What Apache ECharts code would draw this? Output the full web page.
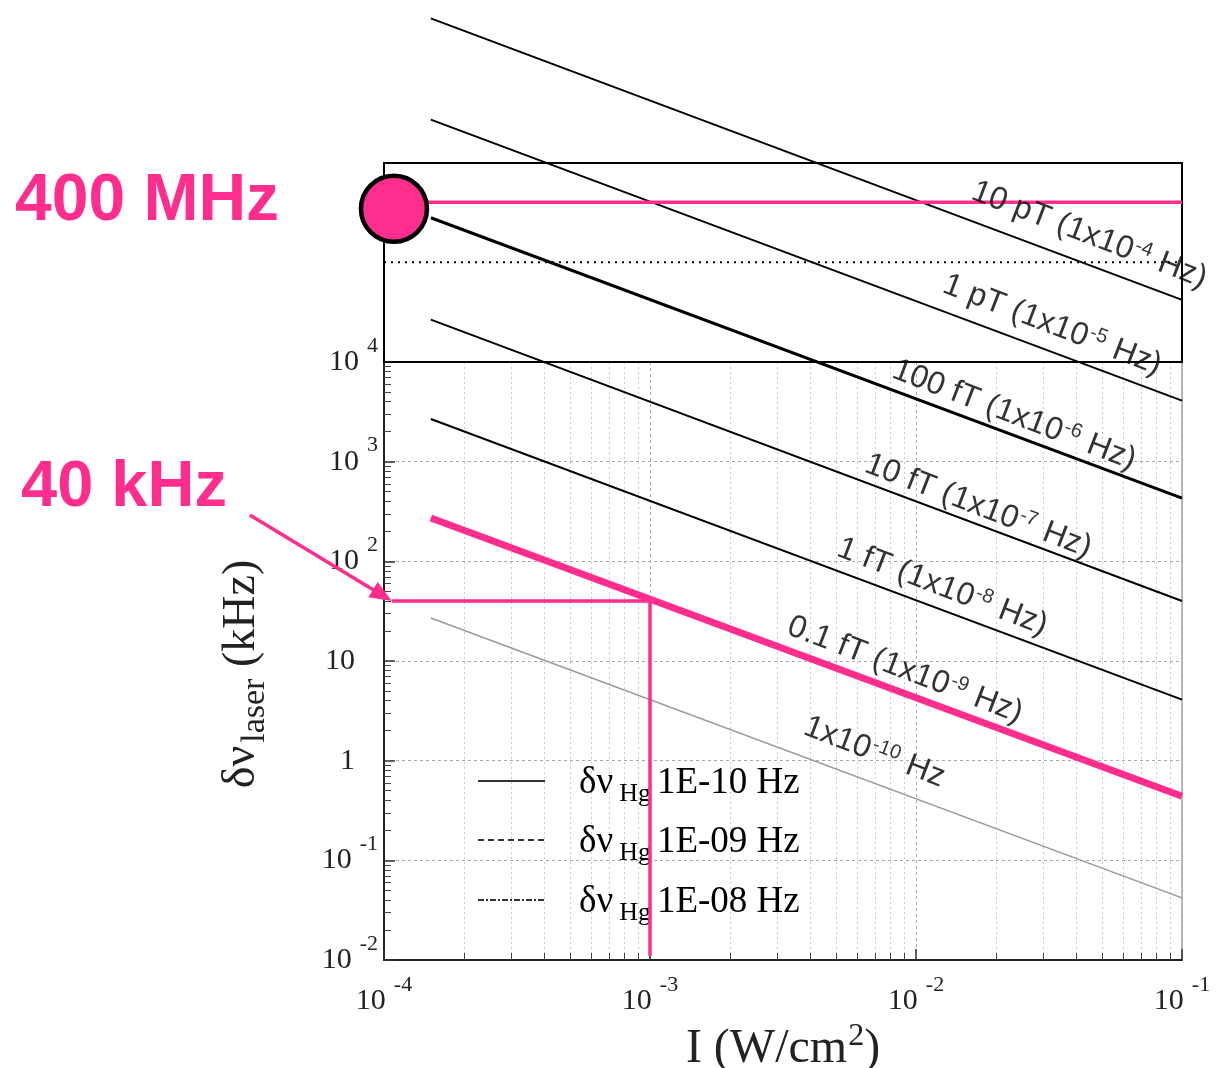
<!DOCTYPE html>
<html>
<head>
<meta charset="utf-8">
<script src="https://cdn.jsdelivr.net/npm/echarts@6/dist/echarts.min.js"></script>
<style>
  html, body { margin: 0; padding: 0; background: #fff; }
  #chart { width: 1219px; height: 1068px; }
</style>
</head>
<body>
<div id="chart"></div>
<script>
// Laser linewidth allowed vs. light intensity, one line per Hg frequency resolution.
// Each line runs from the first to the last intensity value (W/cm^2).
const intensity = [1.5e-4, 0.1];
const line1e4  = [2.8e7, 4.2e4];   // kHz
const line1e5  = [2.7e6, 4.1e3];
const line1e6  = [2.8e5, 431];
const line1e7  = [2.66e4, 40];
const line1e8  = [2680, 4.1];
const line1e9  = [272, 0.44];
const line1e10 = [27, 0.042];

// Operating point at 400 MHz and the 40 kHz read-off at 1 mW/cm^2
const markerPoint = [1.09e-4, 3.45e5];
const mhzLineI = [1.09e-4, 0.1];
const mhzLevel = 4e5;               // 400 MHz in kHz
const dottedLineI = [1e-4, 0.1];
const dottedLevel = 1e5;
const khzLineI = [1.07e-4, 1e-3];
const khzLevel = 40;
const khzDropNu = [40, 0.011];      // vertical drop at I = 1e-3
const khzDropI = 1e-3;

// Line captions
const captionTexts = [
  '10 pT (1x10{s|-4} Hz)',
  '1 pT (1x10{s|-5} Hz)',
  '100 fT (1x10{s|-6} Hz)',
  '10 fT (1x10{s|-7} Hz)',
  '1 fT (1x10{s|-8} Hz)',
  '0.1 fT (1x10{s|-9} Hz)',
  '1x10{s|-10} Hz'
];
const legendTexts = ['1E-10 Hz', '1E-09 Hz', '1E-08 Hz'];

// Caption anchors (data coordinates, centre of each caption)
const captionAnchors = [
  [0.0448, 1.88e5], [0.0325, 2.35e4], [0.0234, 2940], [0.01714, 359],
  [0.01256, 55.3], [0.0091, 8.13], [0.00697, 1.22]
];

const PINK = '#ff2e8e';
const SERIF = 'Liberation Serif';
const SANS = 'Liberation Sans';

function seg(xs, ys) { return xs.map((x, i) => [x, ys[i]]); }

function expLabel(v) {
  const e = Math.round(Math.log10(v));
  if (e === 0) return '{b|1}{g| }';
  if (e === 1) return '{b|10}{g| }';
  return '{b|10}{s|' + e + '}';
}
const tickRich = {
  b: { fontFamily: SERIF, fontSize: 30, color: '#222' },
  s: { fontFamily: SERIF, fontSize: 22, color: '#222', verticalAlign: 'top', padding: [0, 0, 32, 8] },
  g: { width: 23 }
};

function blackLine(ys, width) {
  return {
    type: 'line', xAxisIndex: 0, yAxisIndex: 0, data: seg(intensity, ys),
    symbol: 'none', clip: false, silent: true, z: 3,
    lineStyle: { color: '#000', width: width }
  };
}

const series = [
  blackLine(line1e4, 2),
  blackLine(line1e5, 2),
  blackLine(line1e6, 3),
  blackLine(line1e7, 2),
  blackLine(line1e8, 2),
  {
    type: 'line', data: seg(intensity, line1e10), symbol: 'none', clip: false, silent: true, z: 3,
    lineStyle: { color: '#999', width: 1.5 }
  },
  {
    type: 'line', data: seg(intensity, line1e9), symbol: 'none', clip: false, silent: true, z: 4,
    lineStyle: { color: PINK, width: 7 }
  },
  {
    type: 'line', data: seg(dottedLineI, [dottedLevel, dottedLevel]), symbol: 'none', clip: false, silent: true, z: 3,
    lineStyle: { color: '#000', width: 2, type: [2, 5] }
  },
  {
    type: 'line', data: seg(mhzLineI, [mhzLevel, mhzLevel]), symbol: 'none', clip: false, silent: true, z: 4,
    lineStyle: { color: PINK, width: 3.5 }
  },
  {
    type: 'line', data: seg(khzLineI, [khzLevel, khzLevel]), symbol: 'none', clip: false, silent: true, z: 4,
    lineStyle: { color: PINK, width: 3.5 }
  },
  {
    type: 'line', data: seg([khzDropI, khzDropI], khzDropNu), symbol: 'none', clip: false, silent: true, z: 4,
    lineStyle: { color: PINK, width: 3.5 }
  },
  {
    type: 'scatter', data: [markerPoint], symbol: 'circle', symbolSize: 66, clip: false, silent: true, z: 6,
    itemStyle: { color: PINK, opacity: 1, borderColor: '#000', borderWidth: 4.5 }
  },
  {
    type: 'scatter', symbolSize: 0, clip: false, silent: true, z: 5,
    data: captionAnchors.map((p, i) => ({ value: p, name: captionTexts[i] })),
    label: {
      show: true, position: 'inside', rotate: -21,
      formatter: p => '{t|' + p.name.replace(/\{s\|([^}]*)\}/g, '}{s|$1}{t|') + '}',
      rich: {
        t: { fontFamily: SANS, fontSize: 32, color: '#000' },
        s: { fontFamily: SANS, fontSize: 20, color: '#000', verticalAlign: 'top', padding: [0, 1, 14, 1] }
      }
    }
  }
];

const option = {
  animation: false,
  backgroundColor: '#fff',
  grid: [
    {
      left: 384, right: 37, top: 362, height: 598, outerBoundsMode: 'none', containLabel: false,
      show: true, borderColor: '#777', borderWidth: 1, backgroundColor: 'transparent'
    },
    {
      left: 384, right: 37, top: 163, height: 199, outerBoundsMode: 'none', containLabel: false,
      show: true, borderColor: '#000', borderWidth: 2, backgroundColor: 'transparent', z: 4
    }
  ],
  xAxis: [
    {
      type: 'log', gridIndex: 0, logBase: 10, min: 1e-4, max: 1e-1,
      axisLine: { show: true, onZero: false, lineStyle: { color: '#222', width: 2 } },
      axisTick: { show: true, inside: true, length: 11, lineStyle: { color: '#333', width: 1.5 } },
      minorTick: { show: true, splitNumber: 9, length: 7, lineStyle: { color: '#444', width: 1 } },
      splitLine: { show: true, showMinLine: false, lineStyle: { color: '#aaa', width: 1, type: [3, 3] } },
      minorSplitLine: { show: true, lineStyle: { color: '#c8c8c8', width: 1, type: [2, 3] } },
      axisLabel: { margin: 14, formatter: expLabel, rich: tickRich },
      name: '{n|I (W/cm}{p|2}{n|)}', nameLocation: 'middle', nameGap: 52,
      nameTextStyle: {
        rich: {
          n: { fontFamily: SERIF, fontSize: 48, color: '#222' },
          p: { fontFamily: SERIF, fontSize: 32, color: '#222', verticalAlign: 'top', padding: [0, 0, 24, 1] }
        }
      }
    },
    { type: 'log', gridIndex: 1, logBase: 10, min: 1e-4, max: 1e-1, show: false }
  ],
  yAxis: [
    {
      type: 'log', gridIndex: 0, logBase: 10, min: 1e-2, max: 1e4,
      axisLine: { show: true, onZero: false, lineStyle: { color: '#222', width: 2 } },
      axisTick: { show: true, inside: true, length: 11, lineStyle: { color: '#333', width: 1.5 } },
      minorTick: { show: true, splitNumber: 9, length: 7, lineStyle: { color: '#444', width: 1 } },
      splitLine: { show: true, showMinLine: false, showMaxLine: false, lineStyle: { color: '#aaa', width: 1, type: [3, 3] } },
      minorSplitLine: { show: false },
      axisLabel: { margin: 6, formatter: expLabel, rich: tickRich },
      name: '{n|δν}{u|laser}{n| (kHz)}{e| }', nameLocation: 'middle', nameRotate: 90, nameGap: 112,
      nameTextStyle: {
        rich: {
          n: { fontFamily: SERIF, fontSize: 46, color: '#222' },
          u: { fontFamily: SERIF, fontSize: 34, color: '#222', verticalAlign: 'bottom', padding: [26, 0, 0, 3] },
          e: { width: 26 }
        }
      }
    },
    { type: 'log', gridIndex: 1, logBase: 10, min: 1e4, max: 1e6, show: false }
  ],
  series: series
};

const chart = echarts.init(document.getElementById('chart'), null, { renderer: 'canvas' });
chart.setOption(option);

// Annotations placed through the axes' own scales
const toPx = (p) => chart.convertToPixel({ gridIndex: 0 }, p);
const arrowFrom = toPx([3.13e-5, 292]);
const arrowTo = toPx([1.07e-4, khzLevel]);
const dx = arrowTo[0] - arrowFrom[0], dy = arrowTo[1] - arrowFrom[1];
const len = Math.hypot(dx, dy), ux = dx / len, uy = dy / len;
const headL = 22, headW = 9;
const bx = arrowTo[0] - ux * headL, by = arrowTo[1] - uy * headL;

const legendRich = {
  a: { fontFamily: SERIF, fontSize: 37, color: '#222' },
  h: { fontFamily: SERIF, fontSize: 26, color: '#222', verticalAlign: 'bottom', padding: [22, 6, 0, 6] }
};
const legendRows = [781, 840, 900];
const legendDash = ['solid', [6, 4], [6, 2, 2, 2]];

const graphic = [
  {
    type: 'text', left: 15, top: 169, z: 10,
    style: { text: '400 MHz', fontFamily: SANS, fontWeight: 'bold', fontSize: 66, fill: PINK }
  },
  {
    type: 'text', left: 21, top: 456, z: 10,
    style: { text: '40 kHz', fontFamily: SANS, fontWeight: 'bold', fontSize: 65, fill: PINK }
  },
  {
    type: 'line', z: 10,
    shape: { x1: arrowFrom[0], y1: arrowFrom[1], x2: bx + ux * 4, y2: by + uy * 4 },
    style: { stroke: PINK, lineWidth: 3.5 }
  },
  {
    type: 'polygon', z: 10,
    shape: { points: [arrowTo, [bx - uy * headW, by + ux * headW], [bx + uy * headW, by - ux * headW]] },
    style: { fill: PINK }
  }
];
legendRows.forEach((y, i) => {
  graphic.push({
    type: 'line', z: 1,
    shape: { x1: 478, y1: y, x2: 545, y2: y },
    style: { stroke: '#333', lineWidth: 2, lineDash: legendDash[i] === 'solid' ? null : legendDash[i] }
  });
  graphic.push({
    type: 'text', z: 1, x: 579, y: y + 2,
    style: {
      text: '{a|δν}{h|Hg}{a|' + legendTexts[i] + '}', rich: legendRich,
      verticalAlign: 'middle', align: 'left'
    }
  });
});
chart.setOption({ graphic: graphic });
</script>
</body>
</html>
